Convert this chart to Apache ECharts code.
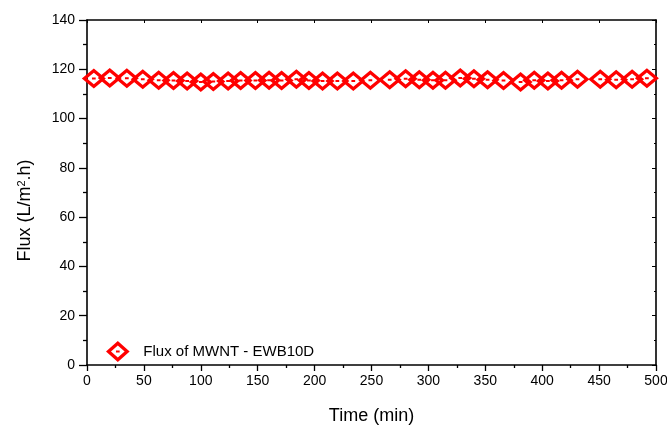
<!DOCTYPE html>
<html>
<head>
<meta charset="utf-8">
<script src="https://cdn.jsdelivr.net/npm/echarts@6/dist/echarts.min.js"></script>
<style>
  html, body { margin: 0; padding: 0; background: #fff; }
  #chart { width: 667px; height: 425px; }
</style>
</head>
<body>
<div id="chart"></div>
<script>
// Permeate flux over time
const timeMin = [6, 20, 35, 49, 63, 76, 88, 100, 111, 124, 135, 148, 160, 171, 184, 195,
  207, 220, 234, 249, 266, 280, 292, 304, 315, 328, 340, 352, 366, 381, 393, 405,
  417, 431, 451, 465, 479, 492];
const fluxValues = [116.3, 116.5, 116.4, 116.0, 115.6, 115.5, 115.2, 114.8, 115.0, 115.2,
  115.4, 115.4, 115.6, 115.4, 116.0, 115.5, 115.2, 115.2, 115.2, 115.6, 115.8, 116.2,
  115.8, 115.6, 115.6, 116.5, 116.2, 115.8, 115.4, 114.8, 115.6, 115.2, 115.6, 116.0,
  116.0, 115.8, 116.0, 116.4];
const seriesName = 'Flux of MWNT - EWB10D';

// Hollow diamond with a small centre dot (inner diamond wound the other way = hole)
const diamondDot = 'path://M0,-8L9,0L0,8L-9,0Z M0,-4.6L-5.2,0L0,4.6L5.2,0Z M-1.4,-0.8L1.4,-0.8L1.4,0.8L-1.4,0.8Z';

const chart = echarts.init(document.getElementById('chart'));
const font = 'Arial, "Liberation Sans", sans-serif';
const axisLine = { show: true, onZero: false, lineStyle: { color: '#000', width: 1.6 } };

chart.setOption({
  animation: false,
  backgroundColor: '#fff',
  grid: { left: 87, right: 11, top: 20, bottom: 60, outerBoundsMode: 'none', containLabel: false },
  legend: {
    left: 101, top: 336,
    itemWidth: 25, itemHeight: 21,
    data: [{ name: seriesName, icon: diamondDot }],
    textStyle: { fontFamily: font, fontSize: 15, color: '#000', padding: [0, 0, 0, 8] }
  },
  xAxis: [{
    type: 'value', min: 0, max: 500, interval: 50,
    name: 'Time (min)', nameLocation: 'middle', nameGap: 42,
    nameTextStyle: { fontFamily: font, fontSize: 18, color: '#000' },
    axisLine: axisLine,
    axisTick: { show: true, length: 6, lineStyle: { color: '#000', width: 1.3 } },
    minorTick: { show: true, splitNumber: 2, length: 3, lineStyle: { color: '#000', width: 1.3 } },
    axisLabel: { fontFamily: font, fontSize: 14, color: '#000', margin: 9 },
    splitLine: { show: false }
  }, {
    type: 'value', position: 'top', min: 0, max: 500, interval: 50,
    axisLine: axisLine,
    axisTick: { show: true, inside: true, length: 3, lineStyle: { color: '#000' } },
    axisLabel: { show: false },
    splitLine: { show: false }
  }],
  yAxis: [{
    type: 'value', min: 0, max: 140, interval: 20,
    name: '{t|Flux (L/m}{s|2}{t|.h)}', nameLocation: 'middle', nameGap: 53,
    nameTextStyle: {
      padding: [0, 36, 0, 0],
      rich: {
        t: { fontFamily: font, fontSize: 18, color: '#000' },
        s: { fontFamily: font, fontSize: 11, color: '#000', verticalAlign: 'top', padding: [0, 0, 7, 0] }
      }
    },
    axisLine: axisLine,
    axisTick: { show: true, length: 8, lineStyle: { color: '#000', width: 1.3 } },
    minorTick: { show: true, splitNumber: 2, length: 4, lineStyle: { color: '#000', width: 1.3 } },
    axisLabel: { fontFamily: font, fontSize: 14, color: '#000', margin: 12 },
    splitLine: { show: false }
  }, {
    type: 'value', position: 'right', min: 0, max: 140, interval: 20,
    axisLine: axisLine,
    axisTick: { show: true, inside: true, length: 4, lineStyle: { color: '#000' } },
    minorTick: { show: true, splitNumber: 2, length: 2, lineStyle: { color: '#000' } },
    axisLabel: { show: false },
    splitLine: { show: false }
  }],
  series: [{
    name: seriesName,
    type: 'scatter',
    symbol: diamondDot,
    symbolSize: [24, 20],
    itemStyle: { color: '#ff0000', opacity: 1 },
    data: timeMin.map((t, i) => [t, fluxValues[i]])
  }]
});
</script>
</body>
</html>
